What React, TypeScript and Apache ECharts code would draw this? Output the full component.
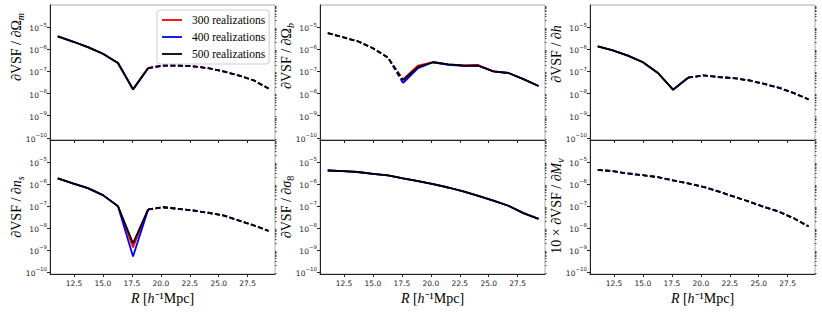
import React, { useEffect, useRef } from "react";
import * as echarts from "echarts";

// ---- data ----
const R = [11.1, 12.4, 13.7, 15.0, 16.3, 17.6, 18.9, 20.2, 21.5, 22.8, 24.1, 25.4, 26.7, 28.0, 29.3];
const realizations = ["300 realizations", "400 realizations", "500 realizations"];
const lineColors = ["#ff0000", "#0000ff", "#000000"];
const xTicks = [12.5, 15.0, 17.5, 20.0, 22.5, 25.0, 27.5];
const yTickExps = [-10, -9, -8, -7, -6, -5];

// dVSF/dOmega_m
const om300 = [3.8e-6, 2.24e-6, 1.26e-6, 6.3e-7, 2.4e-7, 1.6e-8, 1.45e-7, 1.85e-7, 1.85e-7, 1.7e-7, 1.4e-7, 1.0e-7, 6.6e-8, 4.0e-8, 1.7e-8];
const om400 = [3.8e-6, 2.24e-6, 1.26e-6, 6.3e-7, 2.4e-7, 1.5e-8, 1.4e-7, 1.85e-7, 1.85e-7, 1.7e-7, 1.4e-7, 1.0e-7, 6.6e-8, 4.0e-8, 1.7e-8];
const om500 = [3.8e-6, 2.24e-6, 1.26e-6, 6.3e-7, 2.4e-7, 1.55e-8, 1.4e-7, 1.85e-7, 1.85e-7, 1.7e-7, 1.4e-7, 1.0e-7, 6.6e-8, 4.0e-8, 1.7e-8];
// dVSF/dOmega_b
const ob300 = [5.4e-6, 3.5e-6, 2.3e-6, 1.12e-6, 4.2e-7, 4.4e-8, 1.85e-7, 2.6e-7, 2.1e-7, 1.85e-7, 1.95e-7, 1.0e-7, 8.5e-8, 4.5e-8, 2.2e-8];
const ob400 = [5.4e-6, 3.5e-6, 2.3e-6, 1.12e-6, 4.2e-7, 3.0e-8, 1.4e-7, 2.6e-7, 2.0e-7, 1.78e-7, 1.8e-7, 1.0e-7, 8.5e-8, 4.5e-8, 2.2e-8];
const ob500 = [5.4e-6, 3.5e-6, 2.3e-6, 1.12e-6, 4.2e-7, 4.0e-8, 1.6e-7, 2.6e-7, 2.1e-7, 1.85e-7, 1.8e-7, 1.0e-7, 8.5e-8, 4.5e-8, 2.2e-8];
// dVSF/dh
const h300 = [1.35e-6, 8.9e-7, 5.2e-7, 2.6e-7, 8.5e-8, 1.5e-8, 5.2e-8, 6.6e-8, 5.6e-8, 5.0e-8, 4.0e-8, 2.8e-8, 1.86e-8, 1.07e-8, 5.5e-9];
const h400 = [1.35e-6, 8.9e-7, 5.2e-7, 2.6e-7, 8.5e-8, 1.5e-8, 5.2e-8, 6.6e-8, 5.6e-8, 5.0e-8, 4.0e-8, 2.8e-8, 1.86e-8, 1.07e-8, 5.5e-9];
const h500 = [1.35e-6, 8.9e-7, 5.2e-7, 2.6e-7, 8.5e-8, 1.5e-8, 5.2e-8, 6.6e-8, 5.6e-8, 5.0e-8, 4.0e-8, 2.8e-8, 1.86e-8, 1.07e-8, 5.5e-9];
// dVSF/dn_s
const ns300 = [1.78e-6, 1.07e-6, 6.5e-7, 3.1e-7, 9.8e-8, 1.3e-9, 6.9e-8, 8.7e-8, 7.4e-8, 6.2e-8, 4.9e-8, 3.7e-8, 2.2e-8, 1.32e-8, 7.2e-9];
const ns400 = [1.78e-6, 1.07e-6, 6.5e-7, 3.1e-7, 9.6e-8, 5.0e-10, 6.8e-8, 8.7e-8, 7.4e-8, 6.2e-8, 4.9e-8, 3.7e-8, 2.2e-8, 1.32e-8, 7.4e-9];
const ns500 = [1.78e-6, 1.07e-6, 6.5e-7, 3.1e-7, 9.8e-8, 2.0e-9, 6.9e-8, 8.7e-8, 7.4e-8, 6.2e-8, 4.9e-8, 3.7e-8, 2.2e-8, 1.32e-8, 7.4e-9];
// dVSF/dsigma_8
const s8300 = [4.1e-6, 3.8e-6, 3.5e-6, 2.9e-6, 2.45e-6, 1.78e-6, 1.35e-6, 9.8e-7, 6.9e-7, 4.6e-7, 2.9e-7, 1.74e-7, 1.02e-7, 4.7e-8, 2.6e-8];
const s8400 = [4.1e-6, 3.8e-6, 3.5e-6, 2.9e-6, 2.45e-6, 1.78e-6, 1.35e-6, 9.8e-7, 6.9e-7, 4.6e-7, 2.9e-7, 1.74e-7, 1.02e-7, 4.7e-8, 2.6e-8];
const s8500 = [4.1e-6, 3.8e-6, 3.5e-6, 2.9e-6, 2.45e-6, 1.78e-6, 1.35e-6, 9.8e-7, 6.9e-7, 4.6e-7, 2.9e-7, 1.74e-7, 1.02e-7, 4.7e-8, 2.6e-8];
// 10 x dVSF/dM_nu
const mn300 = [4.4e-6, 3.8e-6, 3.0e-6, 2.5e-6, 2.04e-6, 1.45e-6, 1.07e-6, 7.4e-7, 4.6e-7, 2.7e-7, 1.62e-7, 9.3e-8, 5.6e-8, 2.8e-8, 1.17e-8];
const mn400 = [4.4e-6, 3.8e-6, 3.0e-6, 2.5e-6, 2.04e-6, 1.45e-6, 1.07e-6, 7.4e-7, 4.6e-7, 2.7e-7, 1.62e-7, 9.3e-8, 5.6e-8, 2.8e-8, 1.17e-8];
const mn500 = [4.4e-6, 3.8e-6, 3.0e-6, 2.5e-6, 2.04e-6, 1.45e-6, 1.07e-6, 7.4e-7, 4.6e-7, 2.7e-7, 1.62e-7, 9.3e-8, 5.6e-8, 2.8e-8, 1.17e-8];

// index where the line style switches, and style before / after it
const splitAt = [6, 5, 6, 6, 14, 14];
const firstStyle = ["solid", "dashed", "solid", "solid", "solid", "dashed"];
const secondStyle = ["dashed", "solid", "dashed", "dashed", "solid", "dashed"];

const panelValues = [
  [om300, om400, om500],
  [ob300, ob400, ob500],
  [h300, h400, h500],
  [ns300, ns400, ns500],
  [s8300, s8400, s8500],
  [mn300, mn400, mn500],
];

const yTitles = [
  "{r|∂VSF / ∂Ω}{s|m}",
  "{r|∂VSF / ∂Ω}{s|b}",
  "{r|∂VSF / ∂}{i|h}",
  "{r|∂VSF / ∂}{i|n}{s|s}",
  "{r|∂VSF / ∂}{i|σ}{u|8}",
  "{r|10 × ∂VSF / ∂}{i|M}{s|ν}",
];

// ---- layout ----
const LEFTS = [50, 320, 590];
const W = 225;
const TOPS = [5, 140];
const HS = [135, 134];
const XMIN = 10.43;
const XMAX = 29.86;
const YMIN = Math.log10(8e-11);
const YMAX = -4;
const TITLE_Y = [47, 56, 54, 207, 207, 206];
const SERIF = "Liberation Serif";
const SANS = "DejaVu Sans";

const minorExps: number[] = [];
for (let n = -11; n <= -5; n++) {
  for (let k = 2; k <= 9; k++) {
    const e = Math.log10(k) + n;
    if (e > YMIN && e < YMAX) minorExps.push(e);
  }
}

const tickRich = {
  b: { fontFamily: SANS, fontSize: 7.5, color: "#222", lineHeight: 11, verticalAlign: "bottom" },
  e: { fontFamily: SANS, fontSize: 5.5, color: "#222", lineHeight: 6, verticalAlign: "top" },
};

const richStyles = {
  r: { fontFamily: SERIF, fontSize: 14, color: "#000", lineHeight: 18 },
  i: { fontFamily: SERIF, fontSize: 14, fontStyle: "italic", color: "#000", lineHeight: 18 },
  s: { fontFamily: SERIF, fontSize: 10, fontStyle: "italic", color: "#000", lineHeight: 10, verticalAlign: "bottom" },
  u: { fontFamily: SERIF, fontSize: 10, color: "#000", lineHeight: 10, verticalAlign: "bottom" },
};

export default function App() {
  const ref = useRef<HTMLDivElement>(null);
  useEffect(() => {
    if (!ref.current) return;
    const chart = echarts.init(ref.current, undefined, { renderer: "svg" });

    const grid: any[] = [];
    const xAxis: any[] = [];
    const yAxis: any[] = [];
    const series: any[] = [];
    const graphic: any[] = [];

    for (let p = 0; p < 6; p++) {
      const row = Math.floor(p / 3);
      const col = p % 3;
      grid.push({
        left: LEFTS[col], top: TOPS[row], width: W, height: HS[row],
        show: true, borderColor: "#aaa", borderWidth: 1, backgroundColor: "transparent",
      });
      xAxis.push({
        type: "value", gridIndex: p, min: XMIN, max: XMAX,
        axisLine: { show: true, onZero: false, lineStyle: { color: "#222", width: 1 } },
        axisTick: { show: true, customValues: xTicks, length: 3, lineStyle: { color: "#222", width: 1 } },
        axisLabel: {
          show: row === 1, customValues: xTicks, formatter: (v: number) => v.toFixed(1),
          fontFamily: SANS, fontSize: 7.5, color: "#222", margin: 5, hideOverlap: false,
        },
        splitLine: { show: false },
      });
      yAxis.push({
        type: "value", gridIndex: p, min: YMIN, max: YMAX,
        axisLine: { show: true, onZero: false, lineStyle: { color: "#222", width: 1 } },
        axisTick: { show: true, customValues: yTickExps, length: 3, lineStyle: { color: "#222", width: 1 } },
        axisLabel: {
          show: true, customValues: yTickExps,
          formatter: (v: number) => `{b|10}{e|−${Math.abs(Math.round(v))}}`,
          rich: tickRich, margin: 3, hideOverlap: false,
        },
        splitLine: { show: false },
      });
      yAxis.push({
        type: "value", gridIndex: p, min: YMIN, max: YMAX,
        axisLine: { show: false },
        axisTick: { show: true, customValues: minorExps, length: 1.5, lineStyle: { color: "#222", width: 0.8 } },
        axisLabel: { show: false },
        splitLine: { show: false },
      });

      const vals = panelValues[p];
      for (let r = 0; r < 3; r++) {
        const pts = R.map((x, i) => [x, Math.log10(vals[r][i])]);
        const segs: [number, number, string][] = [
          [0, splitAt[p], firstStyle[p]],
          [splitAt[p], R.length - 1, secondStyle[p]],
        ];
        segs.forEach(([a, b, st]) => {
          if (b <= a) return;
          series.push({
            type: "line", name: realizations[r], xAxisIndex: p, yAxisIndex: 2 * p,
            data: pts.slice(a, b + 1), symbol: "none", silent: true,
            itemStyle: { color: lineColors[r] },
            lineStyle: { color: lineColors[r], width: 1.8, type: st === "dashed" ? [5, 2.5] : "solid" },
            emphasis: { disabled: true },
          });
        });
      }

      graphic.push({
        type: "text", x: 16 + col * 270, y: TITLE_Y[p], rotation: Math.PI / 2,
        style: { text: yTitles[p], rich: richStyles, align: "center", verticalAlign: "middle" },
      });
      if (row === 1) {
        graphic.push({
          type: "text", x: LEFTS[col] + W / 2, y: 298,
          style: {
            text: "{i|R}{r| [}{i|h}{r|⁻¹Mpc]}", rich: richStyles, align: "center", verticalAlign: "middle",
          },
        });
      }
    }

    chart.setOption({
      animation: false,
      grid, xAxis, yAxis, series, graphic,
      legend: {
        data: realizations, selectedMode: false, left: 157, top: 10, orient: "vertical",
        icon: "rect", itemWidth: 20, itemHeight: 1.8, itemGap: 5, padding: [4, 4, 4, 5],
        backgroundColor: "rgba(255,255,255,0.8)", borderColor: "#ccc", borderWidth: 1, borderRadius: 3,
        textStyle: { fontFamily: SERIF, fontSize: 11.5, color: "#000", lineHeight: 11.5, padding: [0, 0, 0, 5] },
      },
    });
    return () => chart.dispose();
  }, []);
  return <div ref={ref} style={{ position: "fixed", left: 0, top: 0, width: 822, height: 314, background: "#fff" }} />;
}
